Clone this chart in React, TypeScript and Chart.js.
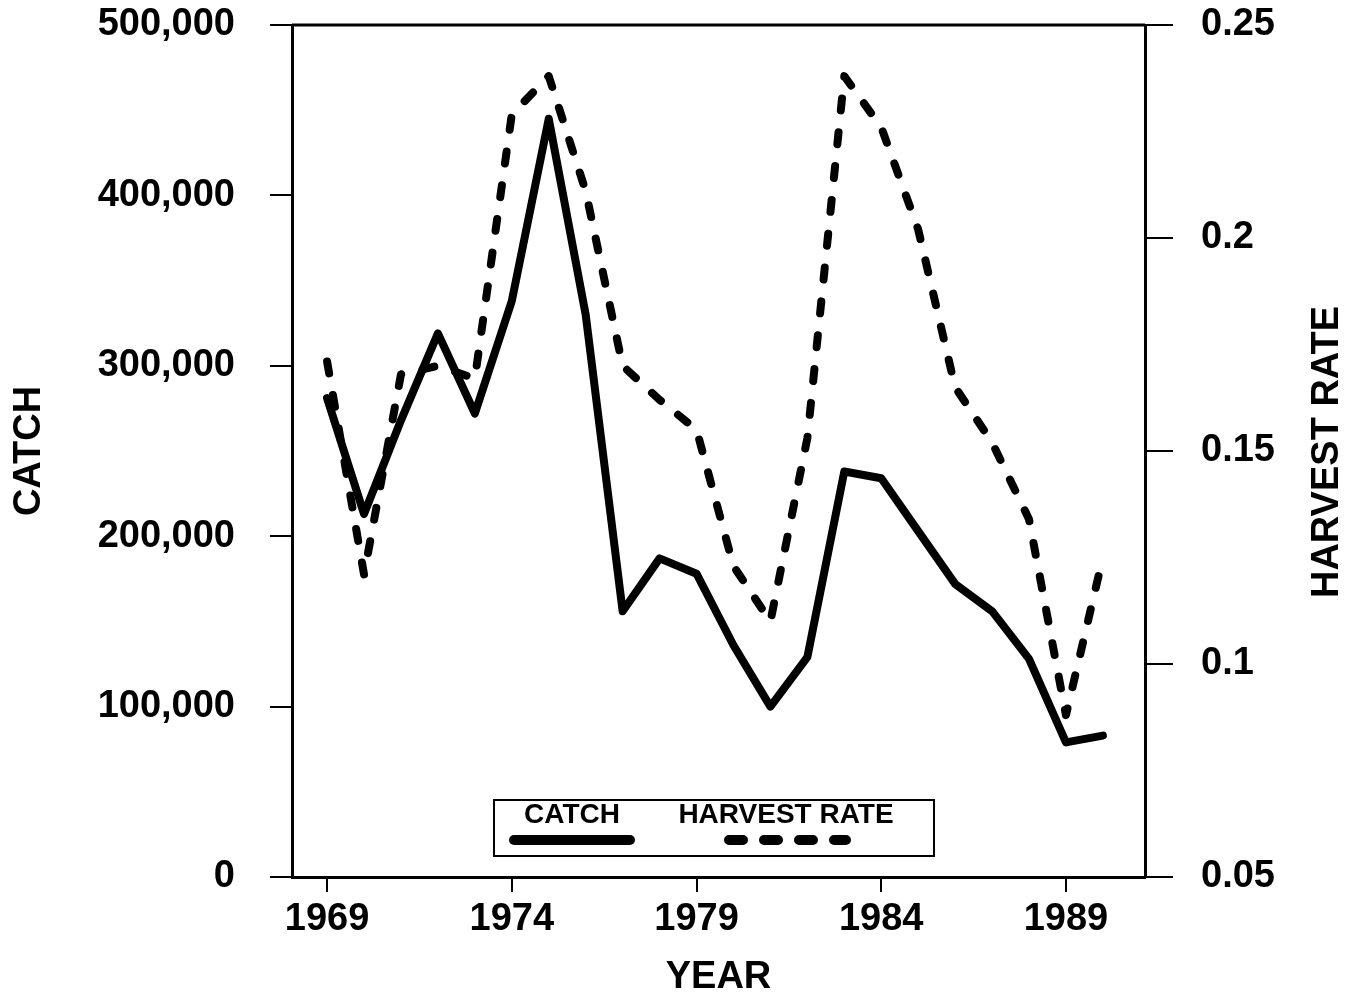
import React, { useEffect, useRef } from 'react';
import { Chart, registerables } from 'chart.js';

Chart.register(...registerables);

const years = [1969, 1970, 1971, 1972, 1973, 1974, 1975, 1976, 1977, 1978, 1979, 1980, 1981, 1982, 1983, 1984, 1985, 1986, 1987, 1988, 1989, 1990];
const catchValues = [281000, 213000, 268000, 319000, 272000, 338000, 445000, 330000, 156000, 187000, 178000, 136000, 100000, 129000, 238000, 234000, 203000, 172000, 156000, 128000, 79000, 83000];
const harvestRate = [0.171, 0.121, 0.168, 0.170, 0.167, 0.229, 0.238, 0.211, 0.170, 0.162, 0.155, 0.123, 0.110, 0.153, 0.238, 0.226, 0.202, 0.165, 0.152, 0.134, 0.088, 0.125];

const yearTicks = [1969, 1974, 1979, 1984, 1989];
const catchTicks = [0, 100000, 200000, 300000, 400000, 500000];
const catchTickLabels = ['0', '100,000', '200,000', '300,000', '400,000', '500,000'];
const rateTicks = [0.05, 0.1, 0.15, 0.2, 0.25];
const rateTickLabels = ['0.05', '0.1', '0.15', '0.2', '0.25'];

const FONT = '"Liberation Sans", Arial, Helvetica, sans-serif';
const BIG = { family: FONT, size: 38, weight: 'bold' as const };

const zeroPad = (s: any) => {
  s.paddingTop = 0;
  s.paddingBottom = 0;
  s.paddingLeft = 0;
  s.paddingRight = 0;
};

const framePlugin = {
  id: 'frameAndLegend',
  afterDraw(chart: any) {
    const { ctx, chartArea } = chart;
    ctx.save();
    // top frame line
    ctx.strokeStyle = '#000';
    ctx.lineWidth = 3;
    ctx.beginPath();
    ctx.moveTo(chartArea.left, chartArea.top);
    ctx.lineTo(chartArea.right, chartArea.top);
    ctx.stroke();

    // right axis title (reads bottom to top)
    ctx.fillStyle = '#000';
    ctx.font = `bold 38px ${FONT}`;
    ctx.textAlign = 'center';
    ctx.textBaseline = 'middle';
    ctx.save();
    ctx.translate(1328, 452);
    ctx.rotate(-Math.PI / 2);
    ctx.fillText(chart.data.datasets[1].label, 0, 0);
    ctx.restore();

    // legend box
    ctx.lineWidth = 2;
    ctx.strokeRect(494, 800, 440, 56);
    ctx.font = `bold 28px ${FONT}`;
    ctx.fillText(chart.data.datasets[0].label, 572, 815);
    ctx.fillText(chart.data.datasets[1].label, 786, 815);
    // solid sample
    ctx.lineCap = 'round';
    ctx.lineWidth = 10;
    ctx.beginPath();
    ctx.moveTo(514, 840);
    ctx.lineTo(630, 840);
    ctx.stroke();
    // dashed sample
    ctx.setLineDash([14, 21]);
    ctx.beginPath();
    ctx.moveTo(729, 840);
    ctx.lineTo(846, 840);
    ctx.stroke();
    ctx.restore();
  },
};

export default function App() {
  const ref = useRef<HTMLCanvasElement | null>(null);

  useEffect(() => {
    document.body.style.margin = '0';
    const canvas = ref.current;
    if (!canvas) return;
    const chart = new Chart(canvas, {
      type: 'line',
      data: {
        datasets: [
          {
            label: 'CATCH',
            data: years.map((y, i) => ({ x: y, y: catchValues[i] })),
            yAxisID: 'y',
            borderColor: '#000',
            borderWidth: 8,
            pointRadius: 0,
            tension: 0,
            borderJoinStyle: 'round',
            borderCapStyle: 'round',
            fill: false,
          },
          {
            label: 'HARVEST RATE',
            data: years.map((y, i) => ({ x: y, y: harvestRate[i] })),
            yAxisID: 'y1',
            borderColor: '#000',
            borderWidth: 8,
            borderDash: [12, 22],
            pointRadius: 0,
            tension: 0,
            borderJoinStyle: 'round',
            borderCapStyle: 'round',
            fill: false,
          },
        ],
      },
      options: {
        responsive: false,
        animation: false,
        devicePixelRatio: 1,
        layout: { padding: { top: 25, left: 0, right: 0, bottom: 0 } },
        plugins: {
          legend: { display: false },
          tooltip: { enabled: false },
        },
        scales: {
          x: {
            type: 'linear',
            position: 'bottom',
            min: 1968.05,
            max: 1991.14,
            afterBuildTicks: (s: any) => {
              s.ticks = yearTicks.map((v) => ({ value: v }));
            },
            afterFit: (s: any) => {
              s.height = 123;
              zeroPad(s);
            },
            ticks: {
              callback: (v: any) => String(v),
              font: BIG,
              color: '#000',
              padding: 5,
              maxRotation: 0,
              autoSkip: false,
            },
            grid: { drawOnChartArea: false, drawTicks: true, tickLength: 15, color: '#000', lineWidth: 2 },
            border: { display: true, color: '#000', width: 3 },
            title: { display: true, text: 'YEAR', font: BIG, color: '#000', padding: { top: 0, bottom: 0 } },
          },
          y: {
            type: 'linear',
            position: 'left',
            min: 0,
            max: 500000,
            afterBuildTicks: (s: any) => {
              s.ticks = catchTicks.map((v) => ({ value: v }));
            },
            afterFit: (s: any) => {
              s.width = 292;
              zeroPad(s);
            },
            ticks: {
              callback: (v: any) => catchTickLabels[catchTicks.indexOf(v)] ?? String(v),
              font: BIG,
              color: '#000',
              padding: 35,
            },
            grid: { drawOnChartArea: false, drawTicks: true, tickLength: 22, color: '#000', lineWidth: 2 },
            border: { display: true, color: '#000', width: 3 },
            title: { display: true, text: 'CATCH', font: BIG, color: '#000', padding: { top: 7, bottom: 0 } },
          },
          y1: {
            type: 'linear',
            position: 'right',
            min: 0.05,
            max: 0.25,
            afterBuildTicks: (s: any) => {
              s.ticks = rateTicks.map((v) => ({ value: v }));
            },
            afterFit: (s: any) => {
              s.width = 214;
              zeroPad(s);
            },
            ticks: {
              callback: (v: any) => {
                const i = rateTicks.findIndex((t) => Math.abs(t - v) < 1e-9);
                return i >= 0 ? rateTickLabels[i] : String(v);
              },
              font: BIG,
              color: '#000',
              padding: 28,
            },
            grid: { drawOnChartArea: false, drawTicks: true, tickLength: 28, color: '#000', lineWidth: 2 },
            border: { display: true, color: '#000', width: 3 },
            title: { display: false },
          },
        },
      },
      plugins: [framePlugin],
    } as any);
    return () => chart.destroy();
  }, []);

  return (
    <div style={{ width: 1359, height: 1000, background: '#fff' }}>
      <canvas ref={ref} width={1359} height={1000} style={{ display: 'block' }} />
    </div>
  );
}
